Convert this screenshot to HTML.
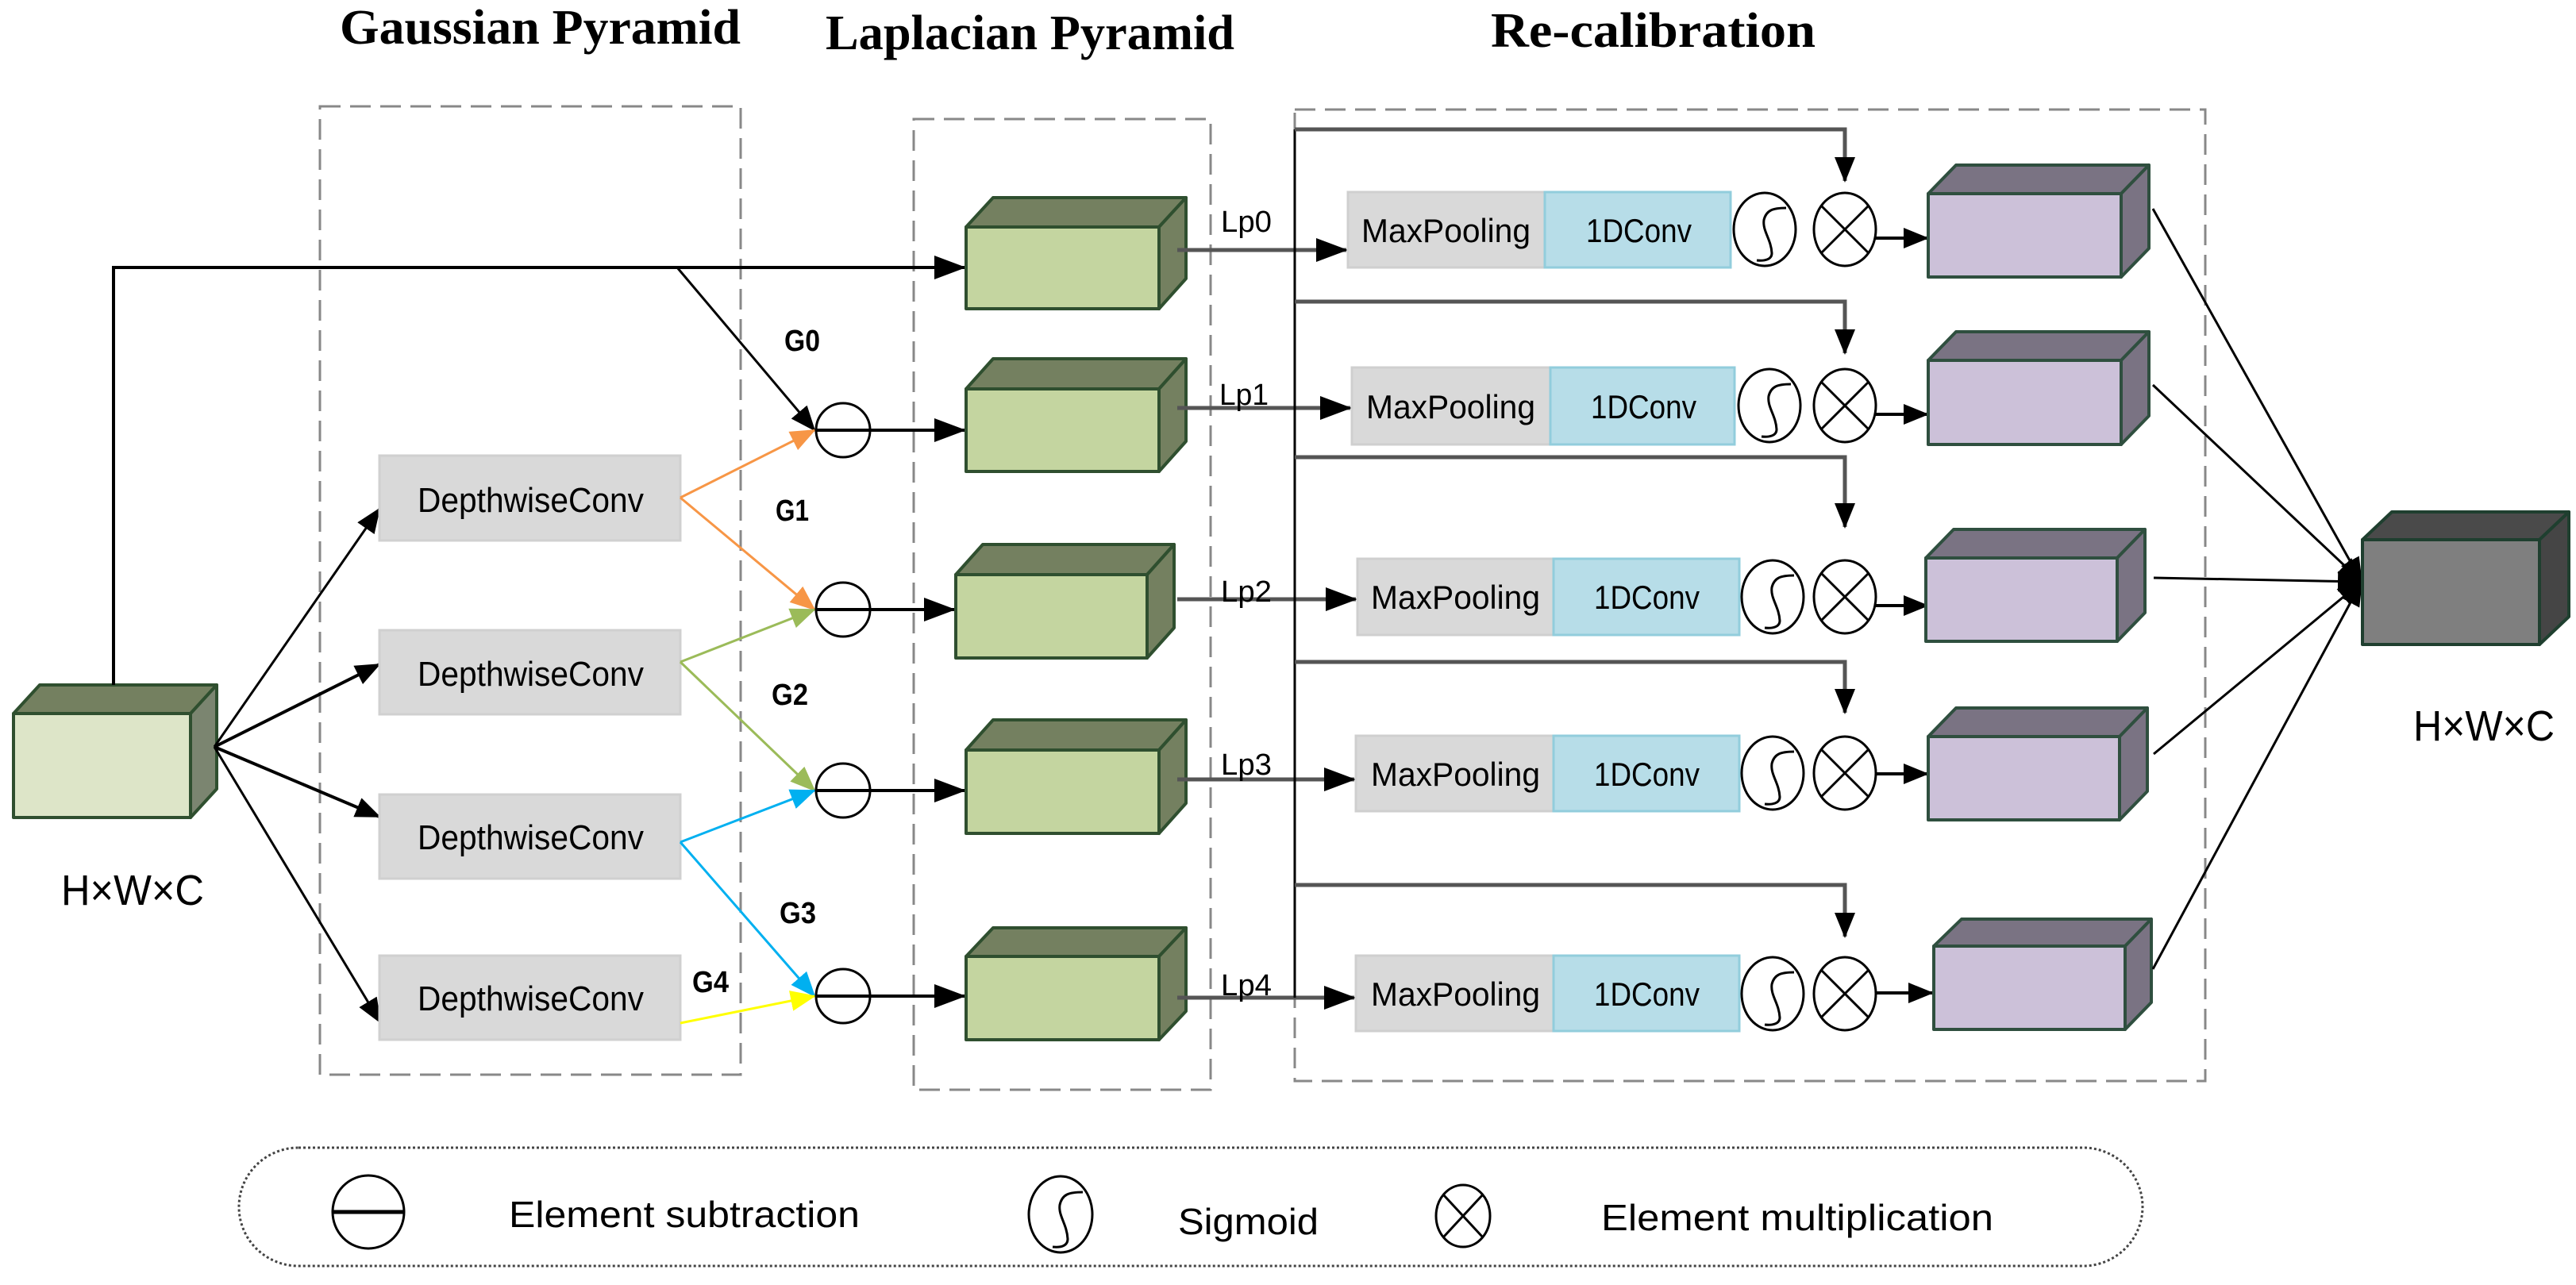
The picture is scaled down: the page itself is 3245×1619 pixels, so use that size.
<!DOCTYPE html>
<html><head><meta charset="utf-8"><style>html,body{margin:0;padding:0;background:#fff}svg{display:block}</style></head>
<body>
<svg width="3245" height="1619" viewBox="0 0 3245 1619" xmlns="http://www.w3.org/2000/svg">
<defs>
<marker id="ab" markerUnits="userSpaceOnUse" markerWidth="40" markerHeight="30" refX="38" refY="15" orient="auto"><path d="M0,0 L40,15 L0,30 Z" fill="#000"/></marker>
<marker id="as" markerUnits="userSpaceOnUse" markerWidth="32" markerHeight="26" refX="30" refY="13" orient="auto"><path d="M0,0 L32,13 L0,26 Z" fill="#000"/></marker>
<marker id="ao" markerUnits="userSpaceOnUse" markerWidth="32" markerHeight="26" refX="30" refY="13" orient="auto"><path d="M0,0 L32,13 L0,26 Z" fill="#f79646"/></marker>
<marker id="ag" markerUnits="userSpaceOnUse" markerWidth="32" markerHeight="26" refX="30" refY="13" orient="auto"><path d="M0,0 L32,13 L0,26 Z" fill="#9bbb59"/></marker>
<marker id="abl" markerUnits="userSpaceOnUse" markerWidth="32" markerHeight="26" refX="30" refY="13" orient="auto"><path d="M0,0 L32,13 L0,26 Z" fill="#00b0f0"/></marker>
<marker id="ay" markerUnits="userSpaceOnUse" markerWidth="32" markerHeight="26" refX="30" refY="13" orient="auto"><path d="M0,0 L32,13 L0,26 Z" fill="#ffff00"/></marker>
</defs>

<!-- titles -->
<g font-family="'Liberation Serif',serif" font-weight="bold" font-size="62" fill="#000">
<text x="428" y="55" textLength="505" lengthAdjust="spacingAndGlyphs">Gaussian Pyramid</text>
<text x="1040" y="62" textLength="515" lengthAdjust="spacingAndGlyphs">Laplacian Pyramid</text>
<text x="1878" y="59" textLength="409" lengthAdjust="spacingAndGlyphs">Re-calibration</text>
</g>

<!-- dashed boxes -->
<g fill="none" stroke="#888" stroke-width="3" stroke-dasharray="26,12">
<rect x="403" y="134" width="530" height="1220"/>
<rect x="1151" y="150" width="374" height="1223"/>
<rect x="1631" y="138" width="1147" height="1224"/>
</g>

<!-- legend box -->
<rect x="301" y="1446" width="2398" height="149" rx="75" ry="75" fill="none" stroke="#444" stroke-width="3" stroke-dasharray="3,3"/>

<!-- input cube -->
<g stroke="#2f4f2f" stroke-width="4" stroke-linejoin="round">
<polygon points="17,899 50,863 273,863 240,899" fill="#748060"/>
<polygon points="240,899 273,863 273,994 240,1030" fill="#7b8570"/>
<rect x="17" y="899" width="223" height="131" fill="#dde5c8"/>
</g>

<!-- input connectors -->
<g stroke="#000" stroke-width="4" fill="none">
<polyline points="143,863 143,337 1215,337" marker-end="url(#ab)"/>
<line x1="853" y1="337" x2="1026" y2="542" stroke-width="3" marker-end="url(#as)"/>
<line x1="270" y1="941" x2="478" y2="641" stroke-width="3" marker-end="url(#as)"/>
<line x1="270" y1="941" x2="478" y2="837" stroke-width="4" marker-end="url(#as)"/>
<line x1="270" y1="941" x2="478" y2="1029" stroke-width="4" marker-end="url(#as)"/>
<line x1="270" y1="941" x2="479" y2="1288" stroke-width="3" marker-end="url(#as)"/>
</g>

<!-- DepthwiseConv boxes -->
<g fill="#d9d9d9" stroke="#d0d0d0" stroke-width="3">
<rect x="478" y="574" width="379" height="107"/>
<rect x="478" y="794" width="379" height="106"/>
<rect x="478" y="1001" width="379" height="106"/>
<rect x="478" y="1204" width="379" height="106"/>
</g>
<g font-family="'Liberation Sans',sans-serif" font-size="44" fill="#000">
<text x="526" y="645" textLength="285" lengthAdjust="spacingAndGlyphs">DepthwiseConv</text>
<text x="526" y="864" textLength="285" lengthAdjust="spacingAndGlyphs">DepthwiseConv</text>
<text x="526" y="1070" textLength="285" lengthAdjust="spacingAndGlyphs">DepthwiseConv</text>
<text x="526" y="1273" textLength="285" lengthAdjust="spacingAndGlyphs">DepthwiseConv</text>
</g>

<!-- colored arrows -->
<g stroke-width="3" fill="none">
<line x1="857" y1="627" x2="1026" y2="542" stroke="#f79646" marker-end="url(#ao)"/>
<line x1="857" y1="627" x2="1026" y2="768" stroke="#f79646" marker-end="url(#ao)"/>
<line x1="857" y1="834" x2="1026" y2="768" stroke="#9bbb59" marker-end="url(#ag)"/>
<line x1="857" y1="834" x2="1026" y2="996" stroke="#9bbb59" marker-end="url(#ag)"/>
<line x1="857" y1="1061" x2="1026" y2="996" stroke="#00b0f0" marker-end="url(#abl)"/>
<line x1="857" y1="1061" x2="1026" y2="1255" stroke="#00b0f0" marker-end="url(#abl)"/>
<line x1="857" y1="1289" x2="1026" y2="1255" stroke="#ffff00" marker-end="url(#ay)"/>
</g>

<!-- G labels -->
<g font-family="'Liberation Sans',sans-serif" font-size="38" font-weight="bold" fill="#000">
<text x="988" y="442" textLength="45" lengthAdjust="spacingAndGlyphs">G0</text>
<text x="977" y="656" textLength="42" lengthAdjust="spacingAndGlyphs">G1</text>
<text x="972" y="888" textLength="46" lengthAdjust="spacingAndGlyphs">G2</text>
<text x="982" y="1163" textLength="46" lengthAdjust="spacingAndGlyphs">G3</text>
<text x="872" y="1250" textLength="46" lengthAdjust="spacingAndGlyphs">G4</text>
</g>

<!-- subtraction circles + arrows to cubes -->
<g stroke="#000" stroke-width="3" fill="none">
<circle cx="1062" cy="542" r="34"/><line x1="1028" y1="542" x2="1215" y2="542" stroke-width="4" marker-end="url(#ab)"/>
<circle cx="1062" cy="768" r="34"/><line x1="1028" y1="768" x2="1202" y2="768" stroke-width="4" marker-end="url(#ab)"/>
<circle cx="1062" cy="996" r="34"/><line x1="1028" y1="996" x2="1215" y2="996" stroke-width="4" marker-end="url(#ab)"/>
<circle cx="1062" cy="1255" r="34"/><line x1="1028" y1="1255" x2="1215" y2="1255" stroke-width="4" marker-end="url(#ab)"/>
</g>

<!-- green cubes -->
<g stroke="#2f4f2f" stroke-width="4" stroke-linejoin="round">
<polygon points="1217,286 1251,249 1494,249 1460,286" fill="#748060"/><polygon points="1460,286 1494,249 1494,351 1460,389" fill="#748060"/><rect x="1217" y="286" width="243" height="103" fill="#c4d5a0"/>
<polygon points="1217,490 1251,452 1494,452 1460,490" fill="#748060"/><polygon points="1460,490 1494,452 1494,556 1460,594" fill="#748060"/><rect x="1217" y="490" width="243" height="104" fill="#c4d5a0"/>
<polygon points="1204,724 1238,686 1479,686 1445,724" fill="#748060"/><polygon points="1445,724 1479,686 1479,791 1445,829" fill="#748060"/><rect x="1204" y="724" width="241" height="105" fill="#c4d5a0"/>
<polygon points="1217,945 1251,907 1494,907 1460,945" fill="#748060"/><polygon points="1460,945 1494,907 1494,1012 1460,1050" fill="#748060"/><rect x="1217" y="945" width="243" height="105" fill="#c4d5a0"/>
<polygon points="1217,1205 1251,1169 1494,1169 1460,1205" fill="#748060"/><polygon points="1460,1205 1494,1169 1494,1274 1460,1310" fill="#748060"/><rect x="1217" y="1205" width="243" height="105" fill="#c4d5a0"/>
</g>

<!-- Lp lines -->
<g stroke="#555" stroke-width="5" fill="none">
<line x1="1483" y1="315" x2="1696" y2="315" marker-end="url(#ab)"/>
<line x1="1483" y1="514" x2="1701" y2="514" marker-end="url(#ab)"/>
<line x1="1483" y1="755" x2="1708" y2="755" marker-end="url(#ab)"/>
<line x1="1483" y1="982" x2="1706" y2="982" marker-end="url(#ab)"/>
<line x1="1483" y1="1257" x2="1706" y2="1257" marker-end="url(#ab)"/>
</g>
<g font-family="'Liberation Sans',sans-serif" font-size="38" fill="#000">
<text x="1538" y="292" textLength="64" lengthAdjust="spacingAndGlyphs">Lp0</text>
<text x="1536" y="510" textLength="62" lengthAdjust="spacingAndGlyphs">Lp1</text>
<text x="1538" y="758" textLength="64" lengthAdjust="spacingAndGlyphs">Lp2</text>
<text x="1538" y="976" textLength="64" lengthAdjust="spacingAndGlyphs">Lp3</text>
<text x="1538" y="1254" textLength="64" lengthAdjust="spacingAndGlyphs">Lp4</text>
</g>

<!-- skip connections -->
<line x1="1631" y1="163" x2="1631" y2="1257" stroke="#000" stroke-width="3"/>
<g stroke="#555" stroke-width="5" fill="none">
<polyline points="1631,163 2324,163 2324,228" marker-end="url(#as)"/>
<polyline points="1631,380 2324,380 2324,445" marker-end="url(#as)"/>
<polyline points="1631,576 2324,576 2324,664" marker-end="url(#as)"/>
<polyline points="1631,834 2324,834 2324,898" marker-end="url(#as)"/>
<polyline points="1631,1115 2324,1115 2324,1180" marker-end="url(#as)"/>
</g>

<!-- MaxPooling / 1DConv -->
<g stroke-width="3">
<rect x="1698" y="242" width="248" height="95" fill="#d9d9d9" stroke="#cfcfcf"/><rect x="1946" y="242" width="234" height="95" fill="#b7dde8" stroke="#92cddc"/>
<rect x="1703" y="463" width="250" height="97" fill="#d9d9d9" stroke="#cfcfcf"/><rect x="1953" y="463" width="232" height="97" fill="#b7dde8" stroke="#92cddc"/>
<rect x="1710" y="704" width="247" height="96" fill="#d9d9d9" stroke="#cfcfcf"/><rect x="1957" y="704" width="234" height="96" fill="#b7dde8" stroke="#92cddc"/>
<rect x="1708" y="927" width="249" height="95" fill="#d9d9d9" stroke="#cfcfcf"/><rect x="1957" y="927" width="234" height="95" fill="#b7dde8" stroke="#92cddc"/>
<rect x="1708" y="1204" width="249" height="95" fill="#d9d9d9" stroke="#cfcfcf"/><rect x="1957" y="1204" width="234" height="95" fill="#b7dde8" stroke="#92cddc"/>
</g>
<g font-family="'Liberation Sans',sans-serif" font-size="42" fill="#000">
<text x="1715" y="305" textLength="213" lengthAdjust="spacingAndGlyphs">MaxPooling</text><text x="1998" y="305" textLength="133" lengthAdjust="spacingAndGlyphs">1DConv</text>
<text x="1721" y="527" textLength="213" lengthAdjust="spacingAndGlyphs">MaxPooling</text><text x="2004" y="527" textLength="133" lengthAdjust="spacingAndGlyphs">1DConv</text>
<text x="1727" y="767" textLength="213" lengthAdjust="spacingAndGlyphs">MaxPooling</text><text x="2008" y="767" textLength="133" lengthAdjust="spacingAndGlyphs">1DConv</text>
<text x="1727" y="990" textLength="213" lengthAdjust="spacingAndGlyphs">MaxPooling</text><text x="2008" y="990" textLength="133" lengthAdjust="spacingAndGlyphs">1DConv</text>
<text x="1727" y="1267" textLength="213" lengthAdjust="spacingAndGlyphs">MaxPooling</text><text x="2008" y="1267" textLength="133" lengthAdjust="spacingAndGlyphs">1DConv</text>
</g>

<!-- sigmoid & mult symbols -->
<g stroke="#000" stroke-width="3" fill="none">
<g transform="translate(2223,289)"><ellipse rx="39" ry="46"/><path d="M27,-27 C10,-27 2,-24 -1,-12 C-3,2 8,12 9,30 C9,38 0,40 -10,39"/></g>
<g transform="translate(2324,289)"><ellipse rx="39" ry="46"/><line x1="-30" y1="-30" x2="30" y2="30"/><line x1="30" y1="-30" x2="-30" y2="30"/></g>
<g transform="translate(2229,511)"><ellipse rx="39" ry="46"/><path d="M27,-27 C10,-27 2,-24 -1,-12 C-3,2 8,12 9,30 C9,38 0,40 -10,39"/></g>
<g transform="translate(2324,511)"><ellipse rx="39" ry="46"/><line x1="-30" y1="-30" x2="30" y2="30"/><line x1="30" y1="-30" x2="-30" y2="30"/></g>
<g transform="translate(2233,752)"><ellipse rx="39" ry="46"/><path d="M27,-27 C10,-27 2,-24 -1,-12 C-3,2 8,12 9,30 C9,38 0,40 -10,39"/></g>
<g transform="translate(2324,752)"><ellipse rx="39" ry="46"/><line x1="-30" y1="-30" x2="30" y2="30"/><line x1="30" y1="-30" x2="-30" y2="30"/></g>
<g transform="translate(2233,974)"><ellipse rx="39" ry="46"/><path d="M27,-27 C10,-27 2,-24 -1,-12 C-3,2 8,12 9,30 C9,38 0,40 -10,39"/></g>
<g transform="translate(2324,974)"><ellipse rx="39" ry="46"/><line x1="-30" y1="-30" x2="30" y2="30"/><line x1="30" y1="-30" x2="-30" y2="30"/></g>
<g transform="translate(2233,1252)"><ellipse rx="39" ry="46"/><path d="M27,-27 C10,-27 2,-24 -1,-12 C-3,2 8,12 9,30 C9,38 0,40 -10,39"/></g>
<g transform="translate(2324,1252)"><ellipse rx="39" ry="46"/><line x1="-30" y1="-30" x2="30" y2="30"/><line x1="30" y1="-30" x2="-30" y2="30"/></g>
</g>
<g stroke="#000" stroke-width="4">
<line x1="2363" y1="300" x2="2428" y2="300" marker-end="url(#as)"/>
<line x1="2363" y1="522" x2="2428" y2="522" marker-end="url(#as)"/>
<line x1="2363" y1="763" x2="2428" y2="763" marker-end="url(#as)"/>
<line x1="2363" y1="975" x2="2428" y2="975" marker-end="url(#as)"/>
<line x1="2363" y1="1251" x2="2434" y2="1251" marker-end="url(#as)"/>
</g>

<!-- purple cubes -->
<g stroke="#2f4f3f" stroke-width="4" stroke-linejoin="round">
<polygon points="2429,244 2464,208 2707,208 2672,244" fill="#7a7383"/><polygon points="2672,244 2707,208 2707,313 2672,349" fill="#7a7383"/><rect x="2429" y="244" width="243" height="105" fill="#ccc1d9"/>
<polygon points="2429,454 2464,418 2707,418 2672,454" fill="#7a7383"/><polygon points="2672,454 2707,418 2707,524 2672,560" fill="#7a7383"/><rect x="2429" y="454" width="243" height="106" fill="#ccc1d9"/>
<polygon points="2426,703 2461,667 2702,667 2667,703" fill="#7a7383"/><polygon points="2667,703 2702,667 2702,772 2667,808" fill="#7a7383"/><rect x="2426" y="703" width="241" height="105" fill="#ccc1d9"/>
<polygon points="2429,928 2464,892 2705,892 2670,928" fill="#7a7383"/><polygon points="2670,928 2705,892 2705,997 2670,1033" fill="#7a7383"/><rect x="2429" y="928" width="241" height="105" fill="#ccc1d9"/>
<polygon points="2436,1192 2471,1158 2710,1158 2677,1192" fill="#7a7383"/><polygon points="2677,1192 2710,1158 2710,1263 2677,1297" fill="#7a7383"/><rect x="2436" y="1192" width="241" height="105" fill="#ccc1d9"/>
</g>

<!-- lines to output -->
<g stroke="#000" stroke-width="3">
<line x1="2712" y1="263" x2="2975" y2="733" marker-end="url(#as)"/>
<line x1="2712" y1="485" x2="2975" y2="733" marker-end="url(#as)"/>
<line x1="2713" y1="728" x2="2975" y2="733" marker-end="url(#as)"/>
<line x1="2713" y1="950" x2="2975" y2="733" marker-end="url(#as)"/>
<line x1="2712" y1="1221" x2="2975" y2="733" marker-end="url(#as)"/>
</g>

<!-- output cube -->
<g stroke="#1f3f2f" stroke-width="4" stroke-linejoin="round">
<polygon points="2976,680 3013,645 3236,645 3199,680" fill="#4a4a4a"/>
<polygon points="3199,680 3236,645 3236,777 3199,812" fill="#454545"/>
<rect x="2976" y="680" width="223" height="132" fill="#7f7f7f"/>
</g>

<g font-family="'Liberation Sans',sans-serif" font-size="54" fill="#000">
<text x="77" y="1140" textLength="180" lengthAdjust="spacingAndGlyphs">H×W×C</text>
<text x="3040" y="933" textLength="178" lengthAdjust="spacingAndGlyphs">H×W×C</text>
</g>

<!-- legend -->
<g stroke="#000" stroke-width="3" fill="none">
<ellipse cx="464" cy="1527" rx="45" ry="46"/><line x1="419" y1="1527" x2="509" y2="1527" stroke-width="5"/>
<g transform="translate(1336,1530)"><ellipse rx="40" ry="48"/><path d="M28,-28 C10,-28 2,-25 -1,-12 C-3,2 8,12 9,31 C9,40 0,42 -10,41"/></g>
<g transform="translate(1843,1532)"><ellipse rx="34" ry="39"/><line x1="-25" y1="-27" x2="25" y2="27"/><line x1="25" y1="-27" x2="-25" y2="27"/></g>
</g>
<g font-family="'Liberation Sans',sans-serif" font-size="46" fill="#000">
<text x="641" y="1546" textLength="442" lengthAdjust="spacingAndGlyphs">Element subtraction</text>
<text x="1484" y="1555" textLength="177" lengthAdjust="spacingAndGlyphs">Sigmoid</text>
<text x="2017" y="1550" textLength="494" lengthAdjust="spacingAndGlyphs">Element multiplication</text>
</g>
</svg>
</body></html>
